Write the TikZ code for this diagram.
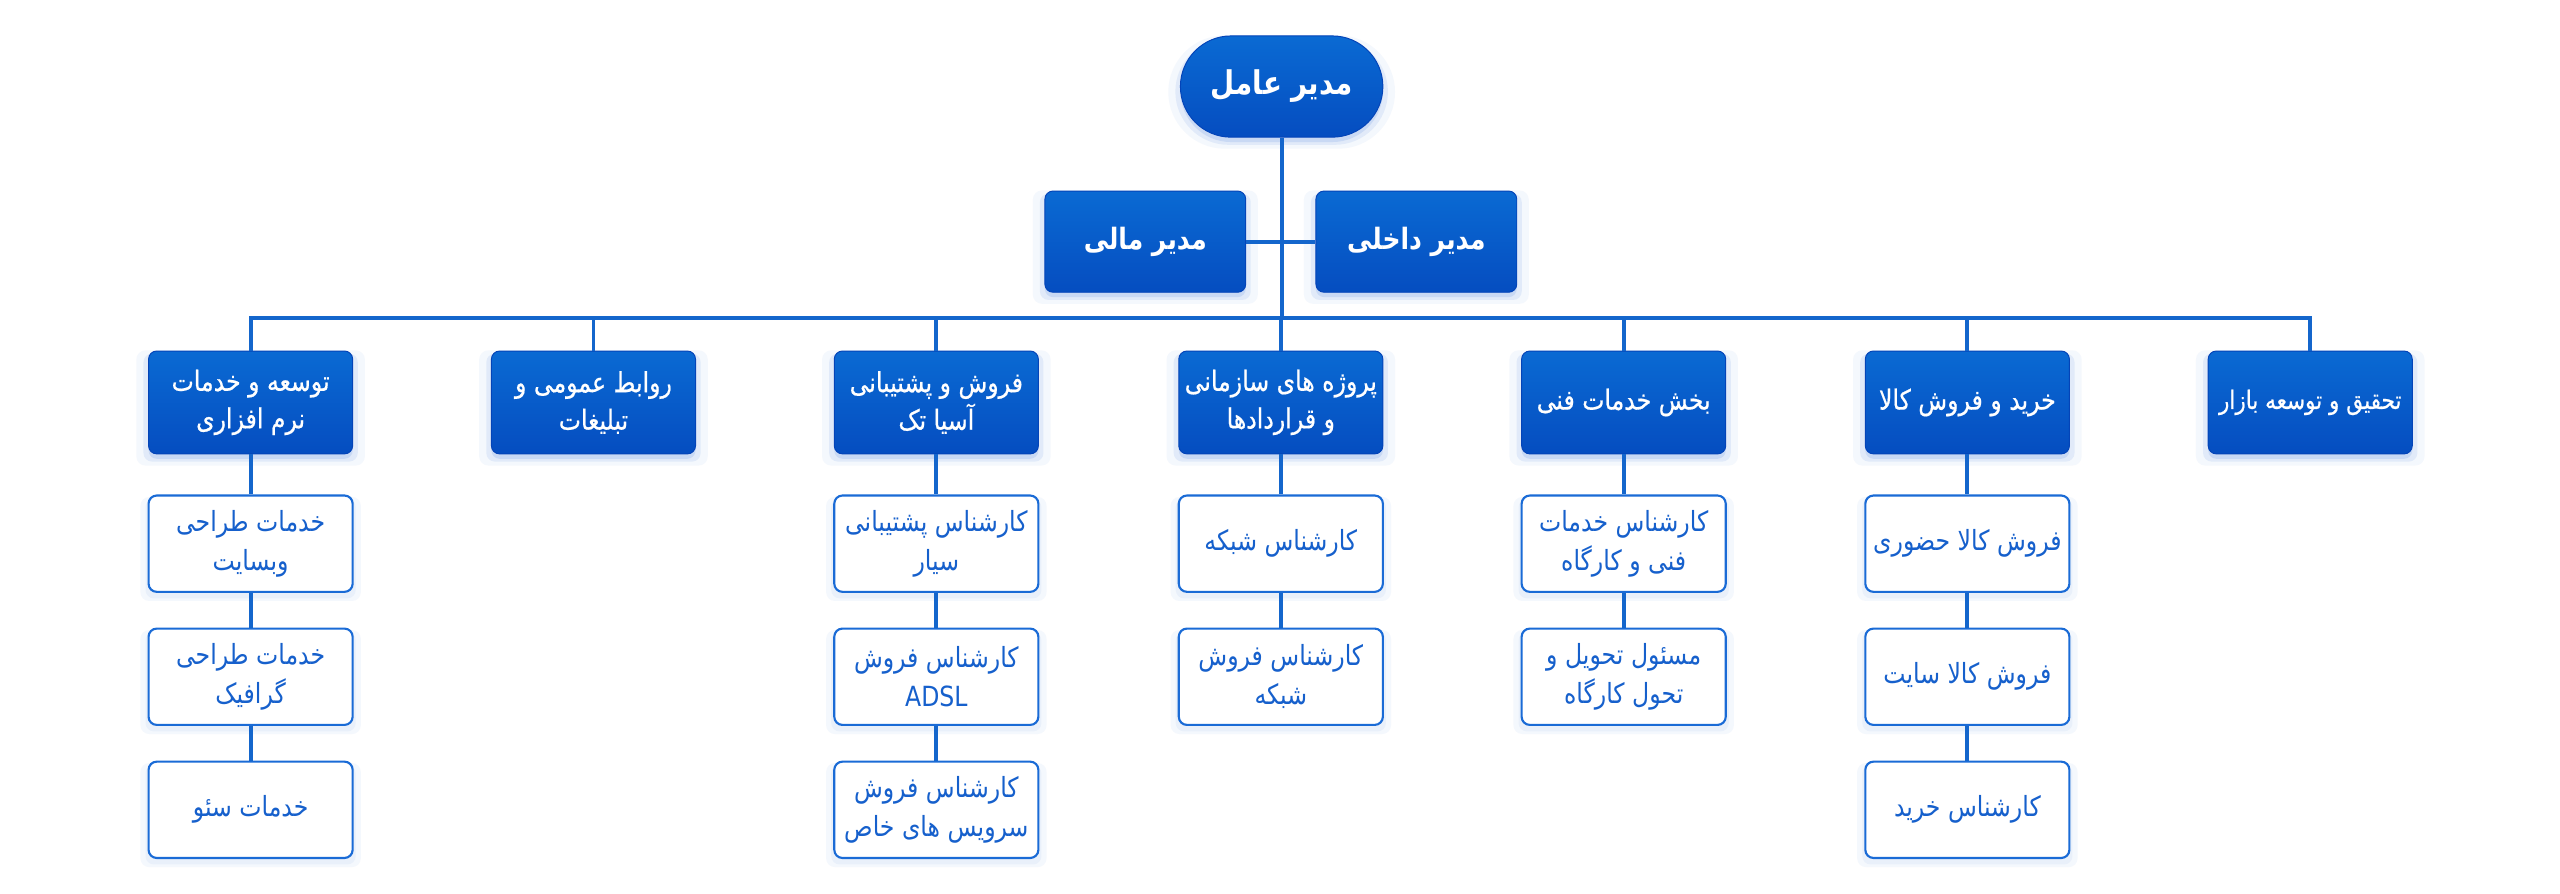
\documentclass[tikz,border=0pt]{standalone}
\usepackage{fontspec}
\TeXXeTstate=1
\newfontfamily\arabicfont[Script=Arabic, FakeStretch=0.85]{DejaVu Sans}
\newfontfamily\arabicmed[Script=Arabic, FakeStretch=0.85, FakeBold=0.6]{DejaVu Sans}
\usetikzlibrary{shadows}
\definecolor{lineblue}{HTML}{1466CC}
\definecolor{boxtop}{HTML}{0A6AD3}
\definecolor{boxbot}{HTML}{054DC0}
\definecolor{boxedge}{HTML}{0444B8}
\definecolor{subborder}{HTML}{1A6BD6}
\definecolor{subtext}{HTML}{1660CC}
\definecolor{glowblue}{HTML}{3A78D8}
\newcommand{\fa}[1]{\beginR #1\endR}
\begin{document}
\begin{tikzpicture}[x=1pt,y=-1pt,
  glow/.style={general shadow={fill=glowblue, opacity=.05, shadow scale=1.12, shadow yshift=-3pt},
               general shadow={fill=glowblue, opacity=.10, shadow scale=1.05, shadow yshift=-3pt},
               general shadow={fill=glowblue, opacity=.14, shadow yshift=-3pt}},
  softglow/.style={general shadow={fill=glowblue, opacity=.05, shadow scale=1.08, shadow yshift=-3pt},
                   general shadow={fill=glowblue, opacity=.06, shadow scale=1.03, shadow yshift=-3pt}},
  bluebox/.style={rectangle, rounded corners=5pt, top color=boxtop, bottom color=boxbot,
     draw=boxedge, line width=0.6pt, text=white, align=center, inner sep=0pt, glow},
  pillbox/.style={bluebox, minimum width=124pt, minimum height=62pt, rounded corners=31pt,
     font=\arabicfont\bfseries\fontsize{20}{24}\selectfont},
  midbox/.style={bluebox, minimum width=123pt, minimum height=62pt,
     font=\arabicfont\bfseries\fontsize{18}{22}\selectfont},
  deptbox/.style={bluebox, minimum width=125pt, minimum height=63pt,
     font=\arabicmed\fontsize{17}{23}\selectfont},
  subbox/.style={rectangle, rounded corners=5pt, fill=white, draw=subborder, line width=1.3pt,
     text=subtext, align=center, inner sep=0pt, minimum width=125pt, minimum height=59pt,
     font=\arabicfont\fontsize{17}{24}\selectfont, softglow},
  conn/.style={draw=lineblue, line width=2.4pt}
]
\fill[white] (0,0) rectangle (1568,547);
\useasboundingbox (0,0) rectangle (1568,547);

\coordinate (bus) at (785,195);

% top
\node[pillbox] (top) at (785,53) {\fa{مدیر عامل}};
\node[midbox] (fin) at (701.5,148) {\fa{مدیر مالی}};
\node[midbox] (int) at (867.5,148) {\fa{مدیر داخلی}};

% departments
\node[deptbox] (d1) at (153.5,246.5) {\fa{توسعه و خدمات}\\\fa{نرم افزاری}};
\node[deptbox] (d2) at (363.5,246.5) {\fa{روابط عمومی و}\\\fa{تبلیغات}};
\node[deptbox] (d3) at (573.5,246.5) {\fa{فروش و پشتیبانی}\\\fa{آسیا تک}};
\node[deptbox] (d4) at (784.5,246.5) {\fa{پروژه های سازمانی}\\\fa{و قراردادها}};
\node[deptbox] (d5) at (994.5,246.5) {\fa{بخش خدمات فنی}};
\node[deptbox] (d6) at (1205,246.5) {\fa{خرید و فروش کالا}};
\node[deptbox, font=\arabicmed\fontsize{15.5}{23}\selectfont] (d7) at (1415,246.5) {\fa{تحقیق و توسعه بازار}};

% sub units
\node[subbox] (s1a) at (153.5,333) {\fa{خدمات طراحی}\\\fa{وبسایت}};
\node[subbox] (s1b) at (153.5,414.5) {\fa{خدمات طراحی}\\\fa{گرافیک}};
\node[subbox] (s1c) at (153.5,496) {\fa{خدمات سئو}};

\node[subbox] (s3a) at (573.5,333) {\fa{کارشناس پشتیبانی}\\\fa{سیار}};
\node[subbox] (s3b) at (573.5,414.5) {\fa{کارشناس فروش}\\ADSL};
\node[subbox] (s3c) at (573.5,496) {\fa{کارشناس فروش}\\\fa{سرویس های خاص}};

\node[subbox] (s4a) at (784.5,333) {\fa{کارشناس شبکه}};
\node[subbox] (s4b) at (784.5,414.5) {\fa{کارشناس فروش}\\\fa{شبکه}};

\node[subbox] (s5a) at (994.5,333) {\fa{کارشناس خدمات}\\\fa{فنی و کارگاه}};
\node[subbox] (s5b) at (994.5,414.5) {\fa{مسئول تحویل و}\\\fa{تحول کارگاه}};

\node[subbox] (s6a) at (1205,333) {\fa{فروش کالا حضوری}};
\node[subbox] (s6b) at (1205,414.5) {\fa{فروش کالا سایت}};
\node[subbox] (s6c) at (1205,496) {\fa{کارشناس خرید}};

% connectors
\draw[conn] (top.south) -- (bus);
\draw[conn] (fin.east) -- (int.west);
\draw[conn] (bus) -| (d1.north);
\draw[conn] (bus) -| (d2.north);
\draw[conn] (bus) -| (d3.north);
\draw[conn] (bus) -| (d4.north);
\draw[conn] (bus) -| (d5.north);
\draw[conn] (bus) -| (d6.north);
\draw[conn] (bus) -| (d7.north);
\draw[conn] (d1.south) -- (s1a.north);
\draw[conn] (s1a.south) -- (s1b.north);
\draw[conn] (s1b.south) -- (s1c.north);
\draw[conn] (d3.south) -- (s3a.north);
\draw[conn] (s3a.south) -- (s3b.north);
\draw[conn] (s3b.south) -- (s3c.north);
\draw[conn] (d4.south) -- (s4a.north);
\draw[conn] (s4a.south) -- (s4b.north);
\draw[conn] (d5.south) -- (s5a.north);
\draw[conn] (s5a.south) -- (s5b.north);
\draw[conn] (d6.south) -- (s6a.north);
\draw[conn] (s6a.south) -- (s6b.north);
\draw[conn] (s6b.south) -- (s6c.north);
\end{tikzpicture}
\end{document}
